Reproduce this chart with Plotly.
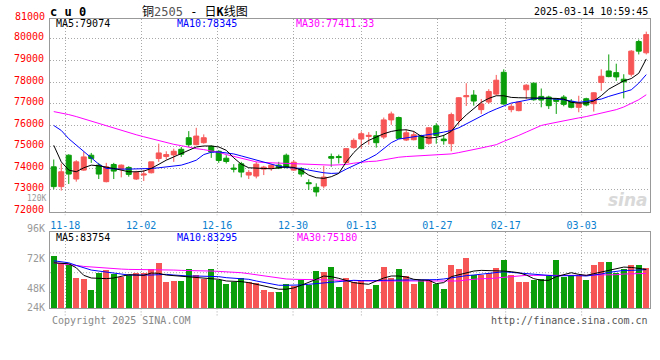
import plotly.graph_objects as go

# ---------------- data ----------------
dates = (["2024-11-14", "2024-11-15"]
         + ["2024-11-%02d" % d for d in [18, 19, 20, 21, 22, 25, 26, 27, 28, 29]]
         + ["2024-12-%02d" % d for d in [2, 3, 4, 5, 6, 9, 10, 11, 12, 13, 16, 17, 18, 19, 20,
                                         23, 24, 25, 26, 27, 30, 31]]
         + ["2025-01-%02d" % d for d in [2, 3, 6, 7, 8, 9, 10, 13, 14, 15, 16, 17, 20, 21, 22,
                                         23, 24, 27]]
         + ["2025-02-%02d" % d for d in [5, 6, 7, 10, 11, 12, 13, 14, 17, 18, 19, 20, 21,
                                         24, 25, 26, 27, 28]]
         + ["2025-03-%02d" % d for d in [3, 4, 5, 6, 7, 10, 11, 12, 13, 14]])

date_ticks = ["11-18", "12-02", "12-16", "12-30", "01-13", "01-27", "02-17", "03-03"]
price_ticks = [72000, 73000, 74000, 75000, 76000, 77000, 78000, 79000, 80000]

open_ = [74069, 73150, 74606, 73502, 73916, 74606, 74146, 73380, 74177, 73962,
         74039, 73502, 73686, 73793, 74453, 74545, 74621, 74882, 75418, 75096,
         75188, 75020, 74790, 74468, 74008, 74207, 73686, 73640, 73962, 73993,
         74146, 74606, 73916, 73993, 73334, 73119, 73180, 74545, 74545, 74269,
         74959, 75357, 75480, 75510, 75449, 76246, 76354, 75311, 75326, 75510,
         75158, 75970, 75357, 75142, 76216, 77319, 77396, 76721, 77074, 77442,
         78454, 76721, 76675, 77641, 77948, 77335, 77304, 77212, 77304, 77105,
         76829, 77227, 76997, 77978, 78515, 78438, 78132, 78362, 79879, 79358]
high = [74407, 74223, 74652, 74376, 74759, 74713, 74253, 74253, 74253, 74177,
        74100, 73885, 73916, 74299, 75142, 74790, 74912, 74989, 75725, 75878,
        75572, 75066, 74836, 74606, 74192, 74299, 73916, 74299, 74115, 74192,
        74299, 74683, 74376, 74054, 73487, 73303, 74115, 74683, 74637, 74943,
        75388, 75710, 75679, 75725, 76354, 76629, 76400, 75802, 75725, 75556,
        75909, 76093, 75556, 76583, 77304, 77948, 77626, 77212, 77672, 78331,
        78592, 77013, 77120, 77902, 77978, 77703, 77365, 77258, 77396, 77212,
        77365, 77273, 77534, 78592, 79282, 78852, 78362, 79481, 79971, 80339]
low = [73027, 72966, 73272, 73380, 73885, 74253, 73502, 73349, 73502, 73579,
       73610, 73456, 73410, 73763, 74299, 74407, 74299, 74529, 74989, 75066,
       75142, 74483, 74253, 74223, 73809, 73579, 73502, 73533, 73686, 73885,
       73962, 73993, 73885, 73610, 72996, 72690, 73073, 74069, 74223, 74223,
       74912, 74912, 75096, 74959, 75357, 76016, 75357, 75265, 75296, 74882,
       75096, 75142, 75096, 74790, 76016, 76890, 76905, 76522, 76982, 77381,
       76951, 76599, 76645, 77212, 77135, 76829, 76752, 76522, 76875, 76783,
       76599, 76875, 76629, 77595, 78224, 78055, 77243, 78254, 79282, 79282]
close = [73150, 73839, 73732, 74299, 74529, 74453, 73732, 74069, 73870, 74146,
         73717, 73809, 73732, 74299, 74713, 74637, 74790, 74652, 75096, 75495,
         75418, 74759, 74361, 74315, 73962, 73824, 73809, 74192, 74054, 74146,
         74008, 74039, 74284, 73732, 73288, 72904, 73594, 74468, 74499, 74912,
         75296, 75602, 75526, 75188, 76246, 76522, 75388, 75648, 75556, 74912,
         75878, 75526, 75280, 76491, 77273, 77365, 77120, 76982, 77565, 78086,
         76982, 76875, 77074, 77856, 77181, 77166, 76905, 77105, 76967, 76829,
         77028, 76936, 77503, 78270, 78254, 78239, 78009, 79435, 79435, 80201]

ma5 = [75066, 74299, 73916, 73839, 74024, 74146, 74115, 74069, 73993, 73916,
       73839, 73839, 73870, 73993, 74192, 74376, 74529, 74683, 74836, 74989,
       75035, 75035, 74989, 74836, 74483, 74192, 74024, 73993, 73993, 73978,
       74024, 74069, 74039, 73916, 73686, 73564, 73533, 73610, 73763, 74299,
       74729, 75066, 75296, 75449, 75602, 75710, 75771, 75787, 75710, 75480,
       75403, 75434, 75526, 75710, 76139, 76476, 76752, 77059, 77243, 77365,
       77365, 77289, 77273, 77273, 77258, 77258, 77258, 77243, 77212, 77059,
       77028, 77028, 77120, 77365, 77672, 77856, 78055, 78162, 78408, 79074]
ma10 = [75986, 75756, 75372, 75066, 74759, 74453, 74192, 73993, 73962, 73962,
        73962, 73962, 73978, 73993, 74024, 74054, 74100, 74146, 74253, 74376,
        74637, 74744, 74759, 74729, 74667, 74575, 74483, 74391, 74299, 74177,
        74100, 74039, 74024, 73993, 73916, 73839, 73793, 73763, 73778, 73962,
        74115, 74269, 74453, 74637, 74912, 75188, 75357, 75403, 75464, 75526,
        75572, 75618, 75679, 75756, 75878, 76062, 76246, 76415, 76599, 76752,
        76905, 77028, 77090, 77166, 77227, 77258, 77243, 77212, 77181, 77120,
        77059, 77105, 77151, 77212, 77335, 77442, 77534, 77641, 77948, 78345]
ma30 = [76630, 76568, 76491, 76400, 76292, 76185, 76078, 75970, 75848, 75740,
        75648, 75556, 75464, 75372, 75265, 75173, 75112, 75050, 74974, 74912,
        74867, 74821, 74744, 74637, 74545, 74453, 74361, 74299, 74269, 74253,
        74253, 74253, 74238, 74223, 74192, 74161, 74146, 74146, 74161, 74177,
        74238, 74284, 74315, 74330, 74391, 74468, 74514, 74545, 74560, 74575,
        74591, 74606, 74637, 74667, 74729, 74790, 74867, 74943, 75020, 75096,
        75250, 75372, 75526, 75679, 75832, 75986, 76062, 76139, 76200, 76262,
        76338, 76400, 76476, 76538, 76630, 76721, 76844, 76997, 77181, 77411.33]

volume = [111530, 98030, 93060, 64650, 62520, 40500, 76720, 82400, 73170, 67490,
          71040, 75310, 76720, 83830, 98030, 57550, 59680, 59680, 85250, 71750,
          62520, 85250, 61810, 53290, 57550, 65360, 57550, 54000, 40500, 36230,
          34110, 53290, 48320, 60390, 51150, 80980, 78850, 89500, 46890, 66070,
          57550, 60390, 42630, 50440, 89500, 66070, 85250, 69620, 51860, 60390,
          60390, 53290, 42630, 93770, 85250, 108680, 71040, 71040, 76720, 87380,
          104420, 71040, 57550, 57550, 60390, 62520, 71040, 104420, 68200, 71040,
          69620, 61810, 93770, 100160, 100160, 76720, 83830, 92350, 92350, 87380]
vma5 = [98030, 97320, 95900, 87380, 71040, 65360, 64650, 63940, 65360, 69620,
        72460, 71750, 71040, 76010, 75300, 71750, 70330, 69620, 67490, 66070,
        65360, 64650, 62520, 58960, 58960, 57540, 55410, 51860, 48310, 44050,
        41210, 41210, 44050, 49730, 55410, 62520, 69620, 68200, 64650, 60390,
        55410, 53280, 51860, 58960, 65360, 69620, 69620, 67490, 62520, 61100,
        60390, 53280, 55410, 68200, 72460, 76720, 80270, 81690, 81690, 80980,
        80270, 78850, 76720, 71750, 63940, 60390, 60390, 68200, 73170, 76720,
        73170, 71040, 74590, 78140, 81690, 85250, 88800, 88090, 86670, 83754]
vma10 = [102290, 100160, 98030, 92350, 87380, 82400, 80270, 78140, 74590, 72460,
         71750, 71750, 71040, 71750, 72460, 73170, 71750, 70330, 69620, 69620,
         69620, 69620, 68200, 66070, 64650, 63230, 62520, 58960, 55410, 52570,
         49730, 49730, 49730, 50440, 51860, 53280, 54700, 55410, 58250, 59680,
         60390, 59680, 58960, 59680, 60390, 60390, 60390, 60390, 60390, 60390,
         61100, 61810, 63230, 66070, 68200, 70330, 71750, 73170, 74590, 76720,
         78850, 77430, 76010, 74590, 72460, 71040, 70330, 69620, 70330, 71040,
         70330, 69620, 71040, 73880, 77430, 79560, 81690, 81690, 82400, 83295]
vma30 = [98030, 96610, 94480, 92350, 90220, 88800, 87380, 86670, 85250, 84540,
         83830, 83830, 83110, 83110, 82400, 82400, 82400, 81690, 81690, 81690,
         80980, 80270, 79560, 78850, 78140, 76720, 74590, 72460, 70330, 67490,
         64650, 63230, 62520, 62520, 62520, 62520, 61810, 61100, 60390, 59680,
         58960, 58960, 58960, 58960, 58960, 58960, 58960, 58960, 58960, 58960,
         58960, 58960, 58960, 58960, 58960, 61100, 63230, 63940, 63940, 65360,
         67490, 68910, 70330, 71040, 71040, 71040, 71040, 71040, 71040, 70330,
         69620, 71040, 71750, 71750, 71750, 72460, 73880, 74590, 75300, 75180]

vol_axis_top = 164087

# ---------------- helpers (pixel -> paper) ----------------
W, H = 660, 360


def px(v):
    return v / W


def py(v):
    return 1 - v / H


MONO = "DejaVu Sans Mono, monospace"
CJK = "DejaVu Sans Mono, Noto Sans CJK SC, sans-serif"
RED = "#f75656"
GREEN = "#0a9e0a"
GRID = "#a8a8a8"
FRAME = "#999999"
DOT = "1px,2px"

x = list(range(len(dates)))
vcolors = [RED if c >= o else GREEN for o, c in zip(open_, close)]
tick_idx = [i for i, d in enumerate(dates) if d[5:] in date_ticks]
n = len(dates)
grid_x = [k * n / (n - 1) - 0.5 for k in tick_idx]
xrange_ = [-0.5, -0.5 + 599.5 / 7.5]

fig = go.Figure()
fig.add_trace(go.Candlestick(
    x=x, open=open_, high=high, low=low, close=close, hovertext=dates,
    increasing=dict(line=dict(color=RED, width=1), fillcolor=RED),
    decreasing=dict(line=dict(color=GREEN, width=1), fillcolor=GREEN),
    whiskerwidth=0, xaxis="x", yaxis="y"))
for arr, col in [(ma30, "#ff00ff"), (ma10, "#0000ff"), (ma5, "#000000")]:
    fig.add_trace(go.Scatter(x=x, y=arr, mode="lines", line=dict(color=col, width=1),
                             hoverinfo="skip", xaxis="x", yaxis="y"))

fig.add_trace(go.Bar(x=x, y=volume, width=0.8, marker=dict(color=vcolors, line=dict(width=0)),
                     xaxis="x2", yaxis="y2", hovertext=dates))
for arr, col in [(vma30, "#ff00ff"), (vma10, "#0000ff"), (vma5, "#000000")]:
    fig.add_trace(go.Scatter(x=x, y=arr, mode="lines", line=dict(color=col, width=1),
                             hoverinfo="skip", xaxis="x2", yaxis="y2"))

common_x = dict(range=xrange_, tickmode="array", tickvals=grid_x, showgrid=True,
                gridcolor=GRID, griddash=DOT, gridwidth=1, zeroline=False,
                showline=True, linecolor=FRAME, linewidth=1, mirror=True, ticks="",
                fixedrange=True)

fig.update_layout(
    width=W, height=H, autosize=False,
    margin=dict(l=0, r=0, t=0, b=0),
    paper_bgcolor="white", plot_bgcolor="white", showlegend=False,
    boxgap=0.33, boxgroupgap=0, bargap=0,
    xaxis=dict(**common_x, domain=[px(50), px(649.5)], anchor="y",
               ticktext=date_ticks, ticklabelstandoff=4,
               tickfont=dict(family=MONO, size=10, color="#0a7fd0"),
               rangeslider=dict(visible=False)),
    yaxis=dict(domain=[py(213.3), py(18.7)], range=[71995, 80947], anchor="x",
               tickmode="array", tickvals=price_ticks, ticktext=[str(v) for v in price_ticks],
               showgrid=True, gridcolor=GRID, griddash=DOT, gridwidth=1, zeroline=False,
               showline=True, linecolor=FRAME, linewidth=1, mirror=True, ticks="",
               ticklabelshift=-2, ticklabelstandoff=3,
               tickfont=dict(family=MONO, size=10, color="#ff0000"), fixedrange=True),
    xaxis2=dict(**common_x, domain=[px(50), px(649.5)], anchor="y2", showticklabels=False),
    yaxis2=dict(domain=[py(311), py(234)], range=[0, vol_axis_top], anchor="x2",
                showticklabels=False, showgrid=False, zeroline=False, showline=True,
                linecolor=FRAME, linewidth=1, mirror=True, ticks="", fixedrange=True),
)

shapes = []
for yv in [255, 275, 295]:
    shapes.append(dict(type="line", xref="paper", yref="paper", x0=px(50), x1=px(649.5),
                       y0=py(yv), y1=py(yv), layer="below",
                       line=dict(color=GRID, width=1, dash=DOT)))
for gx in grid_x:
    shapes.append(dict(type="line", xref="x", yref="paper", x0=gx, x1=gx,
                       y0=py(213.3), y1=py(217), layer="below",
                       line=dict(color=GRID, width=1, dash=DOT)))
    shapes.append(dict(type="line", xref="x2", yref="paper", x0=gx, x1=gx,
                       y0=py(311), y1=py(320), layer="below",
                       line=dict(color=GRID, width=1, dash=DOT)))
fig.update_layout(shapes=shapes)


def txt(t, xx, yy, color="#000", size=10, anchor="left", family=MONO, **kw):
    return dict(text=t, x=px(xx), y=py(yy), xref="paper", yref="paper",
                xanchor=anchor, yanchor="middle", showarrow=False,
                font=dict(family=family, size=size, color=color), **kw)


ann = [
    txt("<b>c u 0</b>", 48, 12, size=12),
    txt("铜<span style='color:#555'>2505</span> - 日<b>K</b>线图", 140, 11.5, size=12,
        family=CJK),
    txt("2025-03-14 10:59:45", 650, 12, anchor="right"),
    txt("81000", 47, 16.7, color="#ff0000", anchor="right"),
    txt("120K", 47, 200.6, color="#999", anchor="right", size=8, borderpad=0),
    txt("MA5:%d" % ma5[-1], 53.5, 24, color="#000"),
    txt("MA10:%d" % ma10[-1], 174.5, 24, color="#0000ff"),
    txt("MA30:%.2f" % ma30[-1], 294, 24, color="#ff00ff"),
    txt("MA5:%d" % vma5[-1], 53.5, 239, color="#000"),
    txt("MA10:%d" % vma10[-1], 174.5, 239, color="#0000ff"),
    txt("MA30:%d" % vma30[-1], 294.5, 239, color="#ff00ff"),
    txt("96K", 47, 230, color="#999", anchor="right"),
    txt("72K", 47, 260.7, color="#999", anchor="right"),
    txt("48K", 47, 290.7, color="#999", anchor="right"),
    txt("24K", 47, 310.5, color="#999", anchor="right"),
    txt("Copyright 2025 SINA.COM", 49.5, 323, color="#888"),
    txt("http://finance.sina.com.cn", 650, 323, color="#555", anchor="right"),
    txt("<i><b>sina</b></i>", 628, 202, color="#d9d9d9", size=17, anchor="center",
        family="DejaVu Sans, sans-serif"),
]
fig.update_layout(annotations=ann)

post = ("var s=document.body.style;s.margin='0';s.padding='0';s.overflow='hidden';"
        "s.height='360px';document.documentElement.style.overflow='hidden';"
        "document.documentElement.style.height='360px';")
fig.write_html("out.html", config={"displayModeBar": False}, post_script=post)
